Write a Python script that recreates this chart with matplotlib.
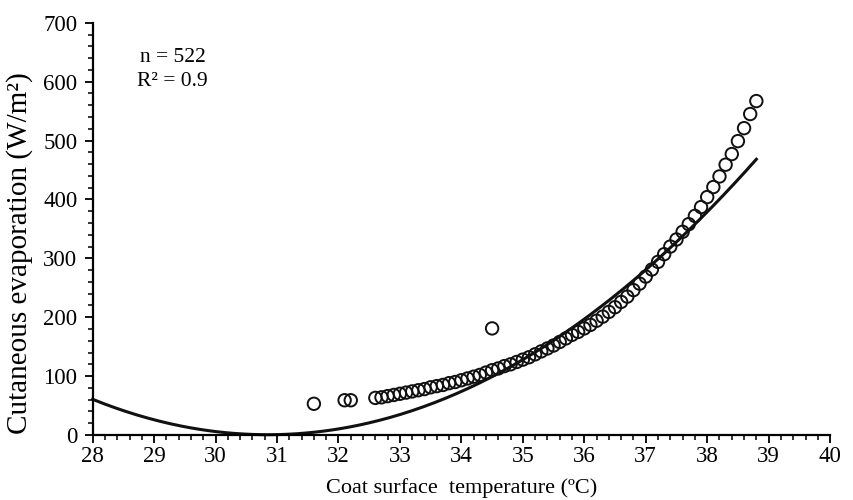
import matplotlib
matplotlib.use("Agg")
import matplotlib.pyplot as plt
import numpy as np
from matplotlib.ticker import MultipleLocator

# Observed points (coat surface temperature, cutaneous evaporation)
outlier_temp = [31.6, 32.1, 32.2, 34.5]
outlier_evap = [53, 59, 59, 181]

main_temp = [
    32.6, 32.7, 32.8, 32.9, 33.0, 33.1, 33.2, 33.3, 33.4, 33.5,
    33.6, 33.7, 33.8, 33.9, 34.0, 34.1, 34.2, 34.3, 34.4, 34.5,
    34.6, 34.7, 34.8, 34.9, 35.0, 35.1, 35.2, 35.3, 35.4, 35.5,
    35.6, 35.7, 35.8, 35.9, 36.0, 36.1, 36.2, 36.3, 36.4, 36.5,
    36.6, 36.7, 36.8, 36.9, 37.0, 37.1, 37.2, 37.3, 37.4, 37.5,
    37.6, 37.7, 37.8, 37.9, 38.0, 38.1, 38.2, 38.3, 38.4, 38.5,
    38.6, 38.7, 38.8,
]
main_evap = [
    63, 64, 66, 68, 70, 72, 74, 76, 78, 81,
    83, 85, 88, 90, 93, 96, 99, 102, 106, 110,
    113, 117, 120, 124, 128, 132, 137, 142, 147, 152,
    158, 164, 170, 175, 181, 187, 194, 201, 209, 217,
    226, 235, 246, 257, 269, 281, 294, 307, 320, 332,
    345, 358, 372, 387, 404, 421, 439, 459, 477, 499,
    521, 545, 567,
]

# Quadratic fit: y = a * (x - vertex)^2 + ymin, drawn over 28 - 38.8 degC
fit_a = 7.4
fit_vertex = 30.85
fit_min = 0.5
fit_range = (28.0, 38.8)

plt.rcParams["font.family"] = ["Liberation Serif", "DejaVu Serif"]

fig = plt.figure(figsize=(8.54, 5.0), dpi=100)
ax = fig.add_axes([0.1085, 0.13, 0.8635, 0.8245])

x_fit = np.linspace(fit_range[0], fit_range[1], 300)
y_fit = fit_a * (x_fit - fit_vertex) ** 2 + fit_min
ax.plot(x_fit, y_fit, color="#111111", linewidth=2.2, zorder=2, clip_on=False)

ax.scatter(main_temp + outlier_temp, main_evap + outlier_evap, s=80,
           facecolors="none", edgecolors="#111111", linewidths=1.4, zorder=3)

ax.set_xlim(28, 40)
ax.set_ylim(0, 700)
ax.xaxis.set_major_locator(MultipleLocator(1))
ax.xaxis.set_minor_locator(MultipleLocator(0.2))
ax.yaxis.set_major_locator(MultipleLocator(100))
ax.yaxis.set_minor_locator(MultipleLocator(20))

for side in ("top", "right"):
    ax.spines[side].set_visible(False)
for side in ("left", "bottom"):
    ax.spines[side].set_linewidth(1.6)

ax.tick_params(which="major", direction="out", length=6, width=1.4,
               labelsize=16.5, color="#111111")
ax.tick_params(which="minor", direction="out", length=3.5, width=1.2, color="#111111")
ax.tick_params(axis="x", which="major", pad=2)
ax.tick_params(axis="y", which="major", pad=5)

ax.set_xlabel("Coat surface  temperature (ºC)", fontsize=16, labelpad=8)
ax.set_ylabel("Cutaneous evaporation (W/m²)", fontsize=21)
ax.yaxis.set_label_coords(-0.081, 0.44)

ax.text(29.3, 620, "n = 522\nR² = 0.9", ha="center", va="center",
        fontsize=15.5, linespacing=1.35)

fig.savefig("out.png", dpi=100)
